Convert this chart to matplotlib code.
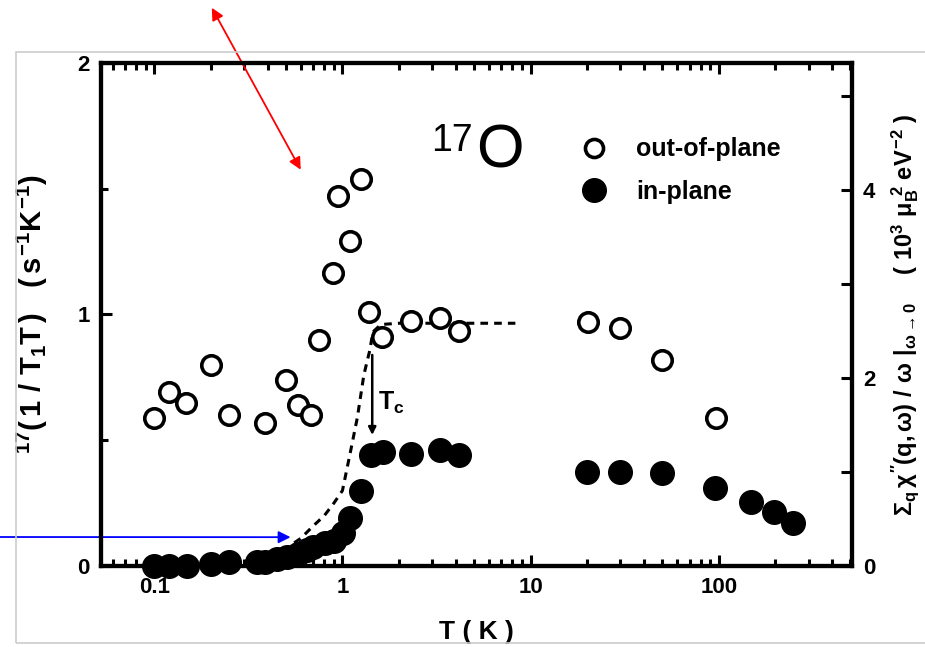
import numpy as np
import matplotlib.pyplot as plt
from matplotlib.patches import Rectangle
from matplotlib.ticker import FixedLocator, NullFormatter, LogLocator, MultipleLocator

plt.rcParams['font.family'] = ['Liberation Sans', 'DejaVu Sans']
plt.rcParams['mathtext.fontset'] = 'custom'
plt.rcParams['mathtext.rm'] = 'Liberation Sans:bold'
plt.rcParams['mathtext.it'] = 'Liberation Sans:bold'
plt.rcParams['mathtext.bf'] = 'Liberation Sans:bold'

# out-of-plane (open circles)
open_T = [0.10, 0.12, 0.148, 0.20, 0.25, 0.39, 0.50, 0.58, 0.68, 0.755, 0.895, 0.95,
          1.10, 1.25, 1.39, 1.63, 2.30, 3.28, 4.14, 20.1, 29.7, 50.2, 96.4]
open_y = [0.59, 0.69, 0.65, 0.80, 0.60, 0.57, 0.74, 0.64, 0.60, 0.90, 1.165, 1.47,
          1.29, 1.54, 1.01, 0.91, 0.975, 0.985, 0.935, 0.97, 0.946, 0.82, 0.59]

# in-plane (filled circles)
filled_T = [0.10, 0.12, 0.15, 0.20, 0.25, 0.35, 0.39, 0.45, 0.51, 0.58, 0.65, 0.70,
            0.81, 0.90, 1.01, 1.10, 1.26, 1.41, 1.65, 2.30, 3.28, 4.14, 20.0, 30.0,
            50.0, 96.0, 148, 196, 248]
filled_y = [0.0, 0.0, 0.0, 0.01, 0.015, 0.015, 0.015, 0.03, 0.035, 0.05, 0.065, 0.075,
            0.09, 0.10, 0.13, 0.19, 0.30, 0.44, 0.455, 0.445, 0.46, 0.44, 0.375, 0.375,
            0.37, 0.31, 0.255, 0.215, 0.17]

# dashed curve (chi'' / omega)
dash_T = [0.3, 0.4, 0.5, 0.6, 0.7, 0.8, 0.9, 1.0, 1.1, 1.2, 1.3, 1.4, 1.45, 1.6,
          2.0, 3.0, 5.0, 8.3]
dash_y = [0.01, 0.03, 0.07, 0.11, 0.16, 0.20, 0.25, 0.30, 0.45, 0.59, 0.76, 0.86, 0.93,
          0.96, 0.965, 0.965, 0.965, 0.965]

xticks = [0.1, 1, 10, 100]
xticklabels = ['0.1', '1', '10', '100']

fig = plt.figure(figsize=(9.25, 6.47), dpi=100)
ax = fig.add_axes([0.109, 0.125, 0.812, 0.778])

ax.plot(dash_T, dash_y, color='black', lw=2.2, ls=(0, (2.5, 2)), zorder=2)
ax.plot(open_T, open_y, 'o', ms=14, mfc='white', mec='black', mew=2.6,
        zorder=3, clip_on=False, label='out-of-plane')
ax.plot(filled_T, filled_y, 'o', ms=17, mfc='black', mec='black',
        zorder=3, clip_on=False, label='in-plane')

ax.set_xscale('log')
ax.set_xlim(0.052, 510)
ax.set_ylim(0, 2)
ax.xaxis.set_major_locator(FixedLocator(xticks))
ax.set_xticklabels(xticklabels)
ax.xaxis.set_minor_locator(LogLocator(base=10, subs=np.arange(2, 10)))
ax.xaxis.set_minor_formatter(NullFormatter())
ax.yaxis.set_major_locator(MultipleLocator(1))
ax.yaxis.set_minor_locator(MultipleLocator(0.5))

for side in ax.spines.values():
    side.set_linewidth(3)
ax.tick_params(which='both', direction='in', top=True, right=False, width=2.2,
               labelsize=16)
ax.tick_params(which='major', length=8, pad=8)
ax.tick_params(which='minor', length=5)
for lab in ax.get_xticklabels() + ax.get_yticklabels():
    lab.set_fontweight('bold')

ax.set_xlabel('T ( K )', fontsize=19, fontweight='bold', labelpad=16)
ax.set_ylabel(r'$^{17}(\,1\ /\ T_1T\,)\ \ \ (\,s^{-1}K^{-1})$', fontsize=21, labelpad=20)

ax2 = ax.twinx()
ax2.set_ylim(0, 5.35)
ax2.yaxis.set_major_locator(MultipleLocator(2))
ax2.yaxis.set_minor_locator(MultipleLocator(1))
ax2.tick_params(which='both', direction='in', width=2.2, labelsize=16)
ax2.tick_params(which='major', length=8, pad=8)
ax2.tick_params(which='minor', length=8)
for lab in ax2.get_yticklabels():
    lab.set_fontweight('bold')
for side in ax2.spines.values():
    side.set_linewidth(3)
ax2.set_ylabel(r'$\Sigma_q\,\chi^{\prime\prime}(q,\omega)\ /\ \omega\ |_{\omega\to0}\ \ \ \ (\ 10^3\ \mu_B^{\ 2}\ eV^{-2}\ )$',
               fontsize=17, rotation=90, labelpad=10)

leg = ax.legend(loc='upper left', bbox_to_anchor=(0.636, 0.852), frameon=False,
                fontsize=18, borderpad=0, handletextpad=1.1, labelspacing=0.75,
                handlelength=1.2, borderaxespad=0)
for t in leg.get_texts():
    t.set_fontweight('bold')
leg.legend_handles[0].set_markersize(13)
leg.legend_handles[1].set_markersize(17)

# 17O label
ax.text(0.44, 0.808, '17', transform=ax.transAxes, fontsize=27, ha='left', va='bottom')
ax.text(0.50, 0.766, 'O', transform=ax.transAxes, fontsize=44, ha='left', va='bottom')

# Tc marker
ax.annotate('', xy=(1.44, 0.51), xytext=(1.44, 0.85),
            arrowprops=dict(arrowstyle='-|>', color='black', lw=1.8,
                            mutation_scale=11))
ax.text(1.55, 0.65, r'$\mathrm{T_c}$', fontsize=18, ha='left', va='center')

# red and blue annotation arrows
ax.annotate('', xy=(0.60, 1.575), xytext=(0.229, 0.988), textcoords='figure fraction',
            annotation_clip=False,
            arrowprops=dict(arrowstyle='<|-|>', color='red', lw=1.3, mutation_scale=18,
                            shrinkA=0, shrinkB=0))
ax.annotate('', xy=(0.53, 0.115), xytext=(0.0, 0.17), textcoords='figure fraction',
            annotation_clip=False,
            arrowprops=dict(arrowstyle='-|>', color='blue', lw=1.3, mutation_scale=18,
                            shrinkA=0, shrinkB=0))

fig.add_artist(Rectangle((0.0173, 0.006), 1.0, 0.9134, transform=fig.transFigure,
                         fill=False, edgecolor='#cccccc', lw=1.2))

fig.savefig('out.png', dpi=100)
